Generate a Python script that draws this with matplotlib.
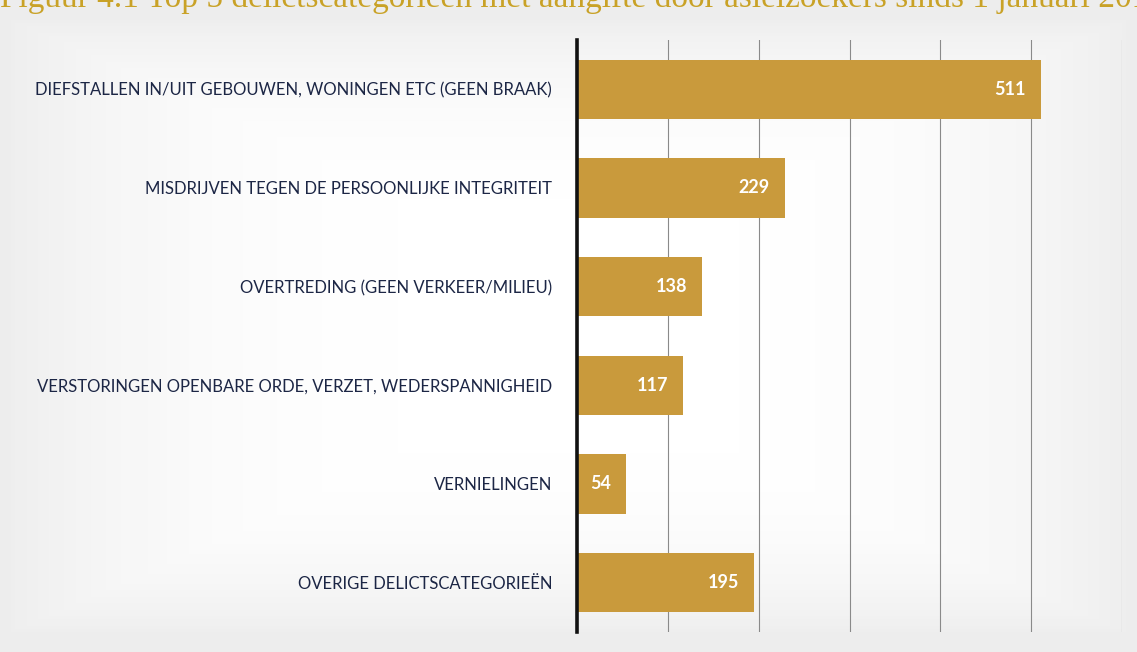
import numpy as np
import matplotlib.pyplot as plt

categorieen = [
    "DIEFSTALLEN IN/UIT GEBOUWEN, WONINGEN ETC (GEEN BRAAK)",
    "MISDRIJVEN TEGEN DE PERSOONLIJKE INTEGRITEIT",
    "OVERTREDING (GEEN VERKEER/MILIEU)",
    "VERSTORINGEN OPENBARE ORDE, VERZET, WEDERSPANNIGHEID",
    "VERNIELINGEN",
    "OVERIGE DELICTSCATEGORIEËN",
]
aantallen = [511, 229, 138, 117, 54, 195]
titel = "Figuur 4.1 Top 5 delictscategorieën met aangifte door asielzoekers sinds 1 januari 2016"

goud = "#c99a3c"
navy = "#1c2645"

fig = plt.figure(figsize=(11.37, 6.52), dpi=100)

# scanned-page look: light grey towards the edges
bg = fig.add_axes([0, 0, 1, 1], zorder=-5)
xx, yy = np.meshgrid(np.linspace(-1, 1, 300), np.linspace(-1, 1, 200))
r = np.clip(np.maximum(np.abs(xx) ** 3, (yy * 1.05) ** 4), 0, 1)
bg.imshow(r, cmap="Greys", vmin=0, vmax=7, aspect="auto", extent=[0, 1, 0, 1])
bg.axis("off")

ax = fig.add_axes([0.5075, 0.0307, 0.4793, 0.908])
ax.patch.set_alpha(0)
y = np.arange(len(categorieen))
bars = ax.barh(y, aantallen, height=0.6, color=goud, zorder=3)
ax.set_ylim(len(categorieen) - 0.5, -0.5)
ax.set_xlim(0, 600)
ax.set_xticks(np.arange(0, 601, 100))
ax.xaxis.grid(True, color="#8a8a8a", linewidth=0.8, zorder=0)
ax.tick_params(axis="x", length=0, labelbottom=False)
ax.tick_params(axis="y", length=0, pad=18)
ax.set_yticks(y)
ax.set_yticklabels(categorieen, fontsize=12.0, color=navy, family="Lato")
for s in ["top", "right", "bottom"]:
    ax.spines[s].set_visible(False)
ax.spines["left"].set_linewidth(2.6)
ax.spines["left"].set_color("#111111")
ax.spines["left"].set_zorder(4)

for b, v in zip(bars, aantallen):
    ax.text(v - 17, b.get_y() + b.get_height() / 2, str(v), ha="right",
            va="center", color="white", fontsize=13, fontweight="bold",
            family="Lato", zorder=5)

# title is partly cut off at the top, as in the scanned original
fig.text(0.0, 0.99, titel, fontsize=24, color="#c9a227", family="Liberation Serif",
         ha="left", va="baseline")

fig.savefig("out.png", dpi=100)
